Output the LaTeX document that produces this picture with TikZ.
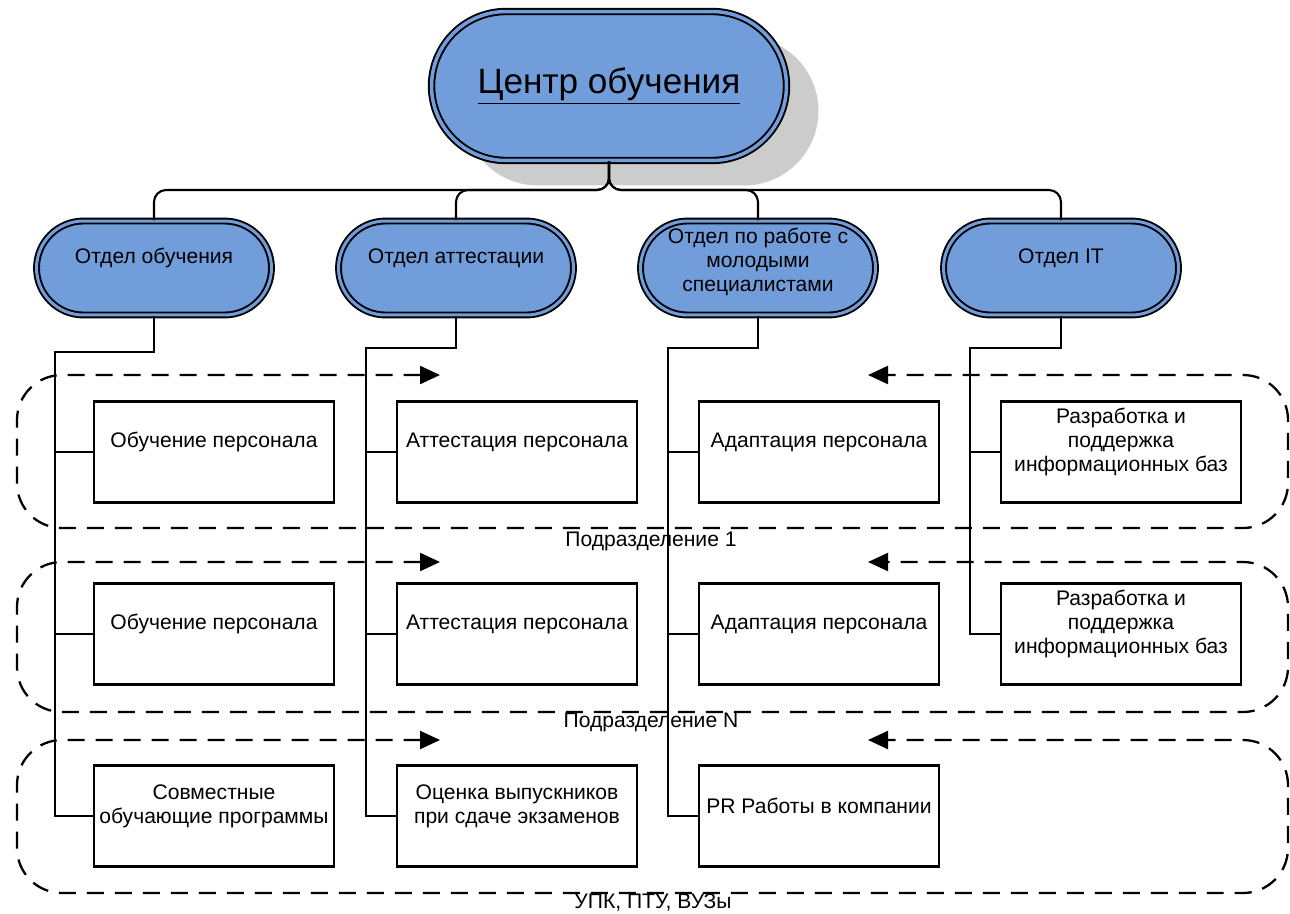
\documentclass[tikz,border=0pt]{standalone}
\usepackage{fontspec}
\setmainfont{Liberation Sans}
\usepackage{tikz}
\usetikzlibrary{positioning, arrows.meta, shapes.misc, shadows}

\definecolor{nodeblue}{RGB}{113,158,219}
\definecolor{shadowgray}{RGB}{204,204,204}

\begin{document}
\begin{tikzpicture}[
    x=0.02cm, y=-0.02cm,
    center_style/.style={rounded rectangle, draw=black, line width=1.1pt, double=nodeblue, double distance=0.07cm, fill=nodeblue, inner sep=0pt, minimum width=7.1cm, minimum height=2.98cm, font=\fontsize{20}{24}\selectfont, drop shadow={shadow xshift=0.64cm, shadow yshift=-0.5cm, fill=shadowgray, opacity=1}},
    dept_style/.style={rounded rectangle, draw=black, line width=1.1pt, double=nodeblue, double distance=0.06cm, fill=nodeblue, inner sep=0pt, minimum width=4.7cm, minimum height=1.88cm},
    unit_style/.style={rectangle, draw=black, line width=1.2pt, fill=white, minimum width=4.8cm, minimum height=2.02cm},
    text_style/.style={font=\fontsize{12}{13.5}\selectfont, align=center, yshift=0.2cm},
    region_style/.style={line width=1.3pt, dash pattern=on 0.34cm off 0.22cm, rounded corners=0.9cm, {Triangle[length=0.4cm,width=0.36cm]}-{Triangle[length=0.4cm,width=0.36cm]}},
    conn_style/.style={line width=1.2pt},
    caption_style/.style={font=\fontsize{12}{13.5}\selectfont}
]
    \useasboundingbox (0,0) rectangle (1290,913);

    % Regions
    \draw[region_style] (440,375) -- (17,375) -- (17,528) -- (1288,528) -- (1288,375) -- (868,375);
    \draw[region_style] (440,562) -- (17,562) -- (17,712) -- (1288,712) -- (1288,562) -- (868,562);
    \draw[region_style] (440,740) -- (17,740) -- (17,893) -- (1288,893) -- (1288,740) -- (868,740);
    \node[caption_style] (cap1) at (651,541) {Подразделение 1};
    \node[caption_style] (capN) at (651,722) {Подразделение N};
    \node[caption_style] (cap3) at (653,902) {УПК, ПТУ, ВУЗы};

    % Center and departments
    \node[center_style] (center) at (609,86) {\underline{Центр обучения}};
    \node[dept_style, label={[text_style]center:Отдел обучения}] (d1) at (154,268) {};
    \node[dept_style, label={[text_style]center:Отдел аттестации}] (d2) at (456,268) {};
    \node[dept_style, label={[text_style, yshift=-0.08cm]center:Отдел по работе с\\молодыми\\специалистами}] (d3) at (758,268) {};
    \node[dept_style, label={[text_style]center:Отдел IT}] (d4) at (1061,268) {};

    % Units
    \node[unit_style, label={[text_style]center:Обучение персонала}] (u11) at (214,452) {};
    \node[unit_style, label={[text_style]center:Аттестация персонала}] (u12) at (517,452) {};
    \node[unit_style, label={[text_style]center:Адаптация персонала}] (u13) at (819,452) {};
    \node[unit_style, label={[text_style]center:Разработка и\\поддержка\\информационных баз}] (u14) at (1121,452) {};
    \node[unit_style, label={[text_style]center:Обучение персонала}] (u21) at (214,634) {};
    \node[unit_style, label={[text_style]center:Аттестация персонала}] (u22) at (517,634) {};
    \node[unit_style, label={[text_style]center:Адаптация персонала}] (u23) at (819,634) {};
    \node[unit_style, label={[text_style]center:Разработка и\\поддержка\\информационных баз}] (u24) at (1121,634) {};
    \node[unit_style, label={[text_style]center:Совместные\\обучающие программы}] (u31) at (214,816) {};
    \node[unit_style, label={[text_style]center:Оценка выпускников\\при сдаче экзаменов}] (u32) at (517,816) {};
    \node[unit_style, label={[text_style]center:PR Работы в компании}] (u33) at (819,816) {};

    % Connectors
    \coordinate (hub) at (609,190);
    \foreach \d in {d1,d2,d3,d4}
        \draw[conn_style, rounded corners=0.24cm] (center.south) |- (\d.north |- hub) -- (\d.north);

    \coordinate (b1) at (55,352);
    \coordinate (b2) at (366,348);
    \coordinate (b3) at (668,348);
    \coordinate (b4) at (970,348);
    \foreach \c in {1,2,3} {
        \draw[conn_style] (d\c.south) |- (b\c) |- (u3\c.west);
        \draw[conn_style] (b\c |- u1\c.west) -- (u1\c.west);
        \draw[conn_style] (b\c |- u2\c.west) -- (u2\c.west);
    }
    \draw[conn_style] (d4.south) |- (b4) |- (u24.west);
    \draw[conn_style] (b4 |- u14.west) -- (u14.west);
\end{tikzpicture}
\end{document}
